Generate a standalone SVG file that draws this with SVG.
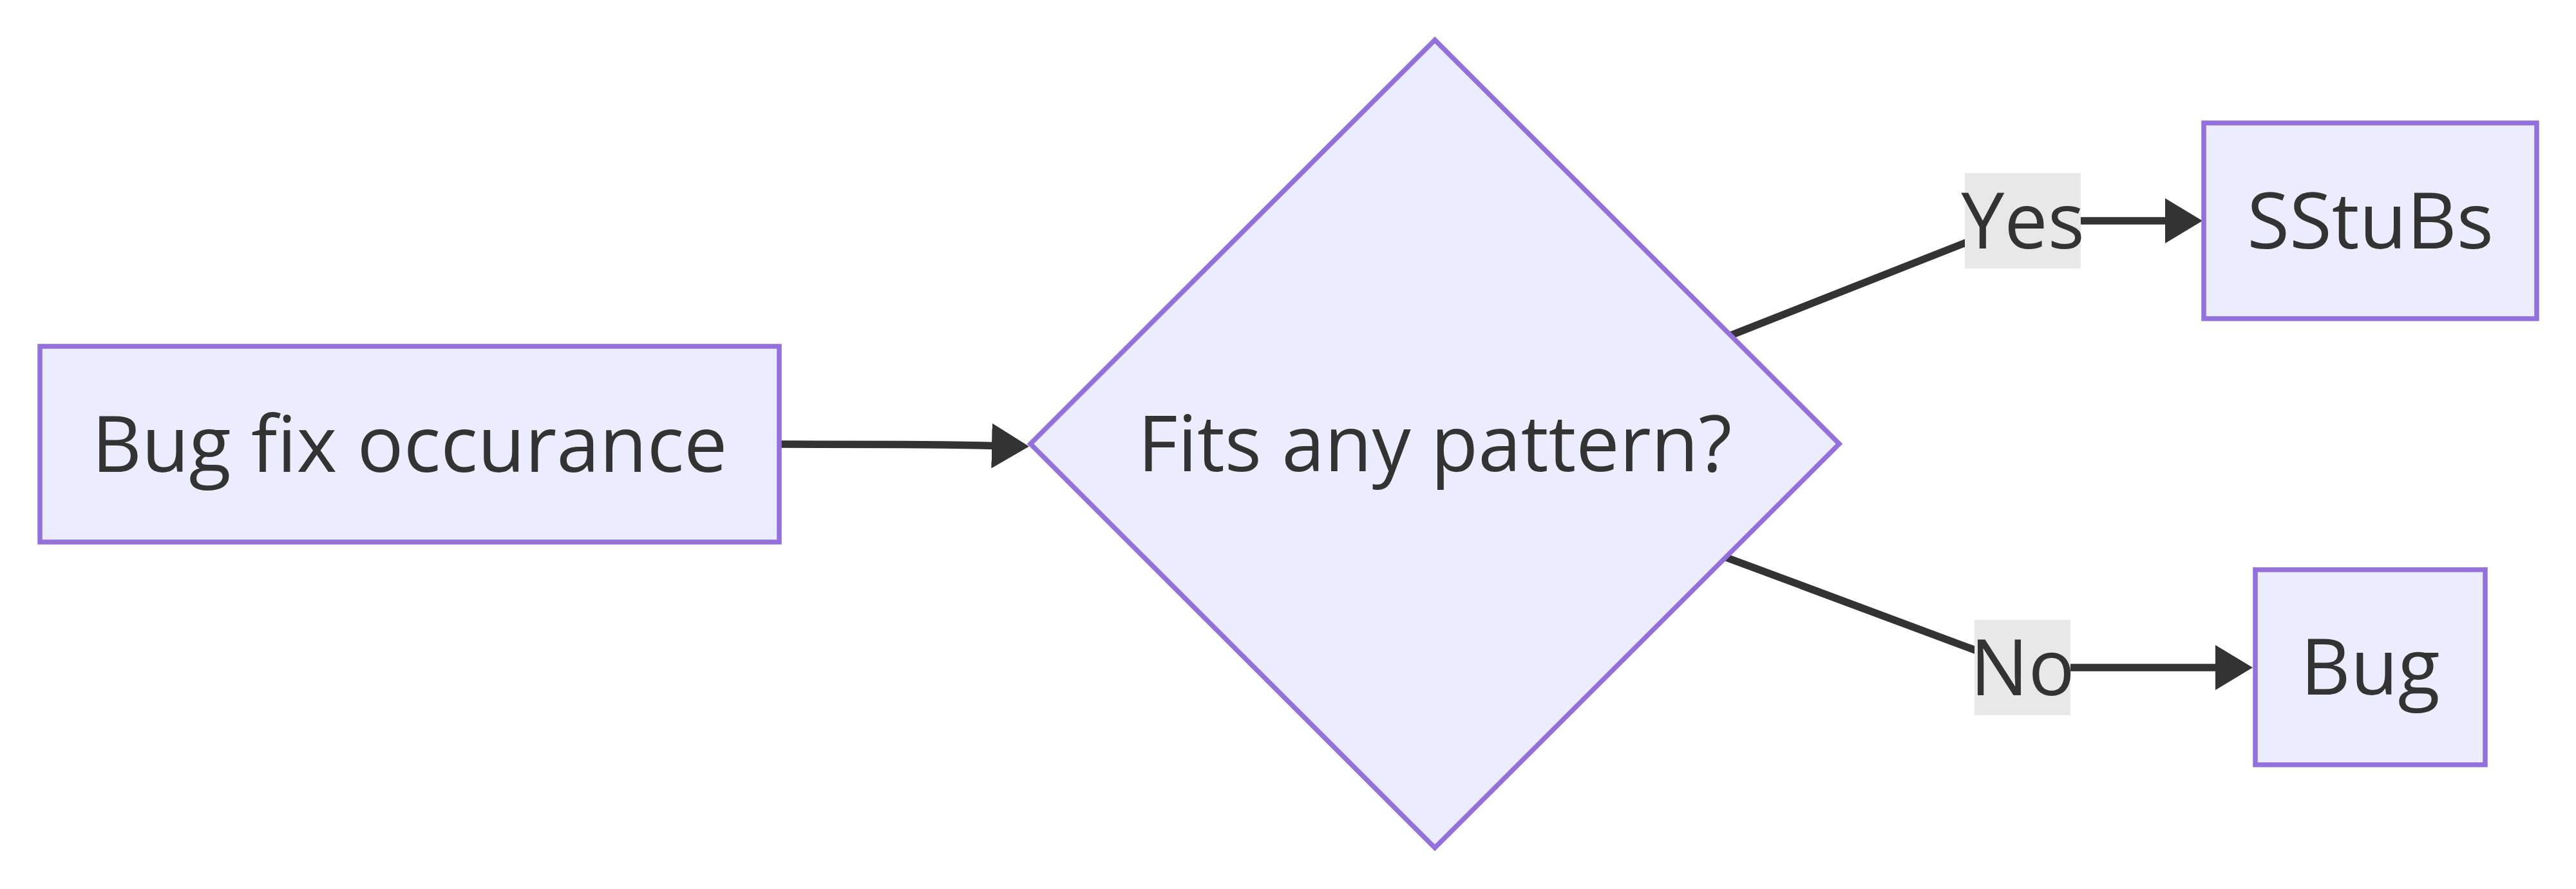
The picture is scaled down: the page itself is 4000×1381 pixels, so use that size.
<svg xmlns="http://www.w3.org/2000/svg" width="4000" height="1381" viewBox="0 0 4000 1381">
<defs>
<style>
.node{fill:#ECECFF;stroke:#9370DB;stroke-width:7.5;}
.edge{fill:none;stroke:#333333;stroke-width:11.5;}
.lbl{fill:#e8e8e8;}
text{font-family:"Open Sans","Noto Sans",sans-serif;font-size:120px;fill:#333333;text-anchor:middle;}
</style>
<marker id="arrow" markerUnits="userSpaceOnUse" viewBox="0 0 58 70" refX="5" refY="35" markerWidth="58" markerHeight="70" orient="auto">
<path d="M0,0 L58,35 L0,70 Z" fill="#333333"/>
</marker>
</defs>
<rect x="0" y="0" width="4000" height="1381" fill="#ffffff"/>
<g id="connectors">
<path class="edge" d="M1213,690 L1400,690.5 C1480,691 1520,692 1545,692.5" marker-end="url(#arrow)"/>
<path class="edge" d="M2680,523.8 L3060,374 Q3141,343 3200,343 L3367,343" marker-end="url(#arrow)"/>
<path class="edge" d="M2680,865.8 L3070,1011 Q3141,1037 3200,1037 L3445,1037" marker-end="url(#arrow)"/>
</g>
<g id="edge-labels">
<g id="label-yes">
<rect class="lbl" x="3051" y="269" width="180" height="148"/>
<text x="3141" y="386">Yes</text>
</g>
<g id="label-no">
<rect class="lbl" x="3066" y="963" width="149" height="148"/>
<text x="3140.5" y="1080">No</text>
</g>
</g>
<g id="node-bugfix">
<rect class="node" x="62" y="538" width="1148" height="304"/>
<text x="636" y="733">Bug fix occurance</text>
</g>
<g id="node-pattern">
<polygon class="node" points="2228,62 2856,689.5 2228,1317 1600,689.5"/>
<text x="2228" y="732">Fits any pattern?</text>
</g>
<g id="node-sstubs">
<rect class="node" x="3422" y="191" width="517" height="304"/>
<text x="3680.5" y="386">SStuBs</text>
</g>
<g id="node-bug">
<rect class="node" x="3502" y="885" width="357" height="303"/>
<text x="3680.5" y="1079">Bug</text>
</g>
</svg>
